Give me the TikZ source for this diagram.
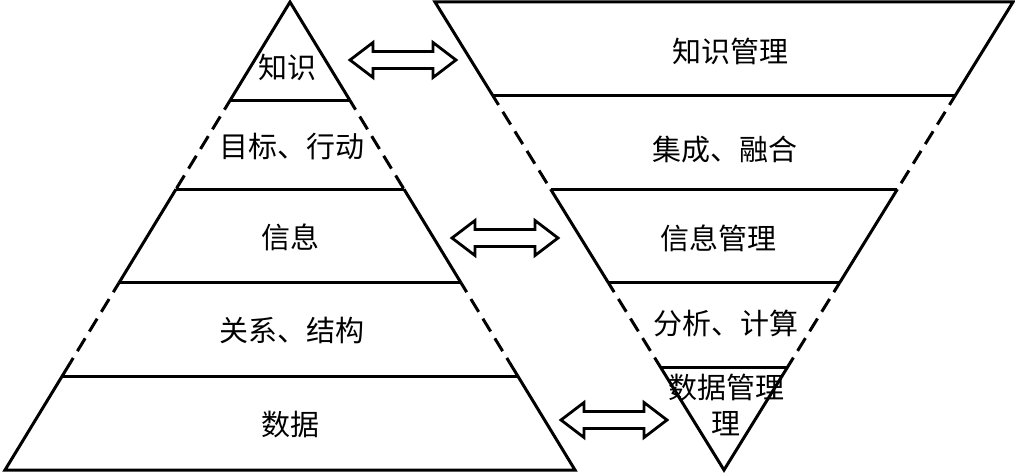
\documentclass[tikz,border=0pt]{standalone}
\usepackage{fontspec}
\newfontfamily\cjk{Noto Sans CJK SC}
\usetikzlibrary{calc}

\begin{document}
\begin{tikzpicture}[
    x=1pt, y=-1pt,
    line width=3pt,
    layer/.style={font=\cjk\fontsize{29}{36}\selectfont, align=center, inner sep=0pt},
    gapline/.style={dash pattern=on 15pt off 8pt, dash phase=4pt},
    dblarrow/.pic={
        \draw[line width=2.8pt] (-53,0) -- (-30,-17.5) -- (-30,-8.5) -- (30,-8.5) -- (30,-17.5)
            -- (53,0) -- (30,17.5) -- (30,8.5) -- (-30,8.5) -- (-30,17.5) -- cycle;
    }
]
\useasboundingbox[fill=white] (0,0) rectangle (1015,473);

% Corners
\coordinate (A) at (290,2);
\coordinate (BL) at (5,470);
\coordinate (BR) at (575,470);
\coordinate (TL) at (435,2);
\coordinate (TR) at (1013,2);
\coordinate (V) at (724,470);

% Left pyramid
\draw ($(A)!0.21!(BL)$) -- (A) -- ($(A)!0.21!(BR)$);
\draw ($(A)!0.77!(BL)$) -- (BL) -- (BR) -- ($(A)!0.77!(BR)$);
\foreach \s/\e/\st in {0.21/0.4/gapline, 0.4/0.6/solid, 0.6/0.77/gapline} {
    \draw[\st] ($(A)!\s!(BL)$) -- ($(A)!\e!(BL)$);
    \draw[\st] ($(A)!\s!(BR)$) -- ($(A)!\e!(BR)$);
}
\foreach \t in {0.21,0.4,0.6,0.8}
    \draw ($(A)!\t!(BL)$) -- ($(A)!\t!(BR)$);

% Right (upside down) pyramid
\draw ($(TL)!0.2!(V)$) -- (TL) -- (TR) -- ($(TR)!0.2!(V)$);
\draw ($(TL)!0.76!(V)$) -- (V) -- ($(TR)!0.76!(V)$);
\foreach \s/\e/\st in {0.2/0.4/gapline, 0.4/0.6/solid, 0.6/0.76/gapline} {
    \draw[\st] ($(TL)!\s!(V)$) -- ($(TL)!\e!(V)$);
    \draw[\st] ($(TR)!\s!(V)$) -- ($(TR)!\e!(V)$);
}
\foreach \t in {0.2,0.4,0.6,0.78}
    \draw ($(TL)!\t!(V)$) -- ($(TR)!\t!(V)$);

% Nodes
\node[layer] (knowledge) at (287,67) {知识};
\node[layer] (goals) at (292,147) {目标、行动};
\node[layer] (info) at (290,237) {信息};
\node[layer] (relations) at (292,330) {关系、结构};
\node[layer] (data) at (290,425) {数据};

\node[layer] (km) at (730,51) {知识管理};
\node[layer] (fusion) at (725,150) {集成、融合};
\node[layer] (im) at (718,238) {信息管理};
\node[layer] (compute) at (726,323) {分析、计算};
\node[layer] (dm) at (726,405) {数据管理\\理};

% Double arrows
\pic (arrowK) at (403,60) {dblarrow};
\pic (arrowI) at (505,238) {dblarrow};
\pic (arrowD) at (614,420) {dblarrow};

\end{tikzpicture}
\end{document}
